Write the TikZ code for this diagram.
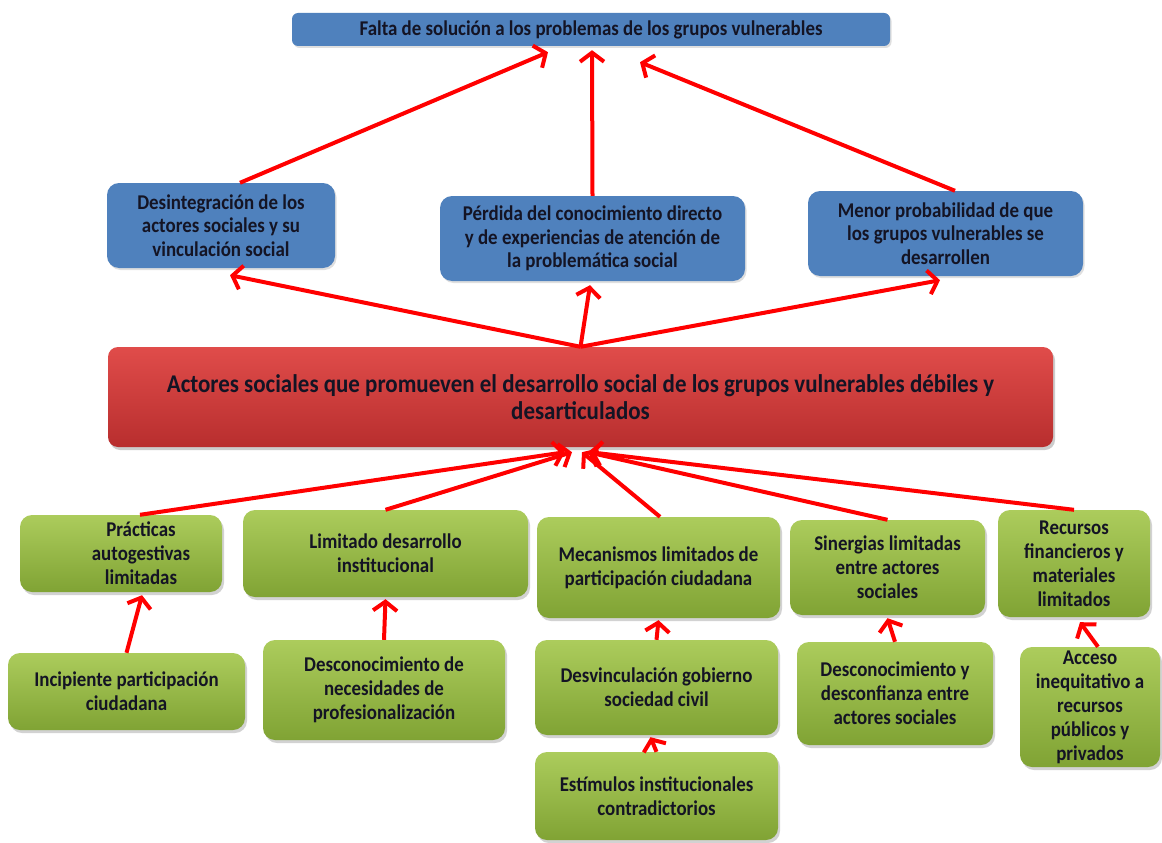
\documentclass[tikz,border=0pt]{standalone}
\usepackage{fontspec}
\setmainfont{Carlito}[FakeStretch=0.9]
\usetikzlibrary{arrows.meta,shadows,calc}
\definecolor{boxblue}{RGB}{79,129,189}
\definecolor{inktext}{RGB}{20,20,36}
\definecolor{redtop}{RGB}{224,76,74}
\definecolor{redbot}{RGB}{184,46,46}
\definecolor{greentop}{RGB}{172,204,92}
\definecolor{greenbot}{RGB}{128,163,52}
\definecolor{arrowred}{RGB}{255,0,0}
\tikzset{
  basebox/.style={align=center, text=inktext, inner sep=0pt,
    font=\bfseries\fontsize{21}{23.5}\selectfont},
  bluebox/.style={basebox, fill=boxblue, rounded corners=12pt,
    drop shadow={opacity=0.25, shadow xshift=1.5pt, shadow yshift=-2pt}},
  headbox/.style={bluebox, rounded corners=6pt},
  causebox/.style={basebox, rounded corners=10pt,
    font=\bfseries\fontsize{25.5}{27}\selectfont,
    top color=redtop, bottom color=redbot,
    drop shadow={opacity=0.4, shadow xshift=2pt, shadow yshift=-3pt}},
  greenbox/.style={basebox, rounded corners=12pt,
    font=\bfseries\fontsize{21}{24}\selectfont,
    top color=greentop, bottom color=greenbot,
    drop shadow={opacity=0.35, shadow xshift=2pt, shadow yshift=-3pt}},
  plaintext/.style={align=center, text=inktext, inner sep=0pt,
    font=\bfseries\fontsize{21}{24}\selectfont},
  arr/.style={draw=arrowred, line width=4pt,
    -{Straight Barb[length=9pt,width=24pt]}},
}
\begin{document}
\begin{tikzpicture}[x=1pt,y=-1pt]
\useasboundingbox (0,0) rectangle (1162,843);
\fill[white] (0,0) rectangle (1162,843);

% effects
\node[headbox, minimum width=598pt, minimum height=33pt] (top) at (591,29.5)
  {Falta de solución a los problemas de los grupos vulnerables};
\node[bluebox, minimum width=228pt, minimum height=85pt] (b1) at (221,225.5)
  {Desintegración de los\\actores sociales y su\\vinculación social};
\node[bluebox, minimum width=305pt, minimum height=85pt] (b2) at (592.5,238.5)
  {Pérdida del conocimiento directo\\y de experiencias de atención de\\la problemática social};
\node[bluebox, minimum width=275pt, minimum height=85pt] (b3) at (945.5,233.5)
  {Menor probabilidad de que\\los grupos vulnerables se\\desarrollen};

% central problem
\node[causebox, minimum width=945pt, minimum height=100pt] (r) at (580.5,397)
  {Actores sociales que promueven el desarrollo social de los grupos vulnerables débiles y\\desarticulados};

% causes
\node[greenbox, minimum width=202pt, minimum height=77pt] (g1) at (121,553.5) {};
\node[plaintext] (g1t) at ($(g1.center)+(20,0)$) {Prácticas\\autogestivas\\limitadas};
\node[greenbox, minimum width=285pt, minimum height=87pt] (g2) at (385.5,553.5)
  {Limitado desarrollo\\institucional};
\node[greenbox, minimum width=243pt, minimum height=101pt] (g3) at (658.5,567.5)
  {Mecanismos limitados de\\participación ciudadana};
\node[greenbox, minimum width=195pt, minimum height=95pt] (g4) at (887.5,567.5)
  {Sinergias limitadas\\entre actores\\sociales};
\node[greenbox, minimum width=152pt, minimum height=107pt] (g5) at (1074,563.5)
  {Recursos\\financieros y\\materiales\\limitados};

% underlying causes
\node[greenbox, minimum width=237pt, minimum height=77pt] (h1) at (126.5,691.5)
  {Incipiente participación\\ciudadana};
\node[greenbox, minimum width=242pt, minimum height=100pt] (h2) at (384,690)
  {Desconocimiento de\\necesidades de\\profesionalización};
\node[greenbox, minimum width=243pt, minimum height=95pt] (h3) at (656.5,687.5)
  {Desvinculación gobierno\\sociedad civil};
\node[greenbox, minimum width=196pt, minimum height=103pt] (h4) at (895,693.5)
  {Desconocimiento y\\desconfianza entre\\actores sociales};
\node[greenbox, minimum width=140pt, minimum height=120pt] (h5) at (1090,707)
  {Acceso\\inequitativo a\\recursos\\públicos y\\privados};
\node[greenbox, minimum width=243pt, minimum height=88pt] (i3) at (656.5,796)
  {Estímulos institucionales\\contradictorios};

% arrows towards the top effect
\draw[arr] ($(b1.north)+(19,0)$) -- ($(top.south)+(-43,6)$);
\draw[arr] (b2.north) -- ($(top.south)+(1,4)$);
\draw[arr] ($(b3.north)+(9.5,0)$) -- ($(top.south)+(49,16)$);

% arrows from the central problem to the effects
\draw[arr] (r.north) -- ($(b1.south)+(9,7)$);
\draw[arr] (r.north) -- ($(b2.south)+(-2.5,4)$);
\draw[arr] (r.north) -- ($(b3.south)+(-5.5,4)$);

% arrows from the causes to the central problem
\draw[arr] ($(g1.north)+(19,0)$) -- ($(r.south)+(-15.5,5)$);
\draw[arr] (g2.north) -- ($(r.south)+(-8.5,5)$);
\draw[arr] ($(g3.north)+(1.5,0)$) -- ($(r.south)+(1.5,5)$);
\draw[arr] (g4.north) -- ($(r.south)+(7.5,5)$);
\draw[arr] (g5.north) -- ($(r.south)+(9.5,5)$);

% arrows between cause levels
\draw[arr] (h1.north) -- ($(g1.south)+(21,3)$);
\draw[arr] (h2.north) -- ($(g2.south)+(0,2)$);
\draw[arr] (h3.north) -- ($(g3.south)+(0,2)$);
\draw[arr] (h4.north) -- ($(g4.south)+(0,3)$);
\draw[arr] ($(h5.north)+(8,0)$) -- ($(g5.south)+(6,5)$);
\draw[arr] (i3.north) -- ($(h3.south)+(-6,2)$);
\end{tikzpicture}
\end{document}
